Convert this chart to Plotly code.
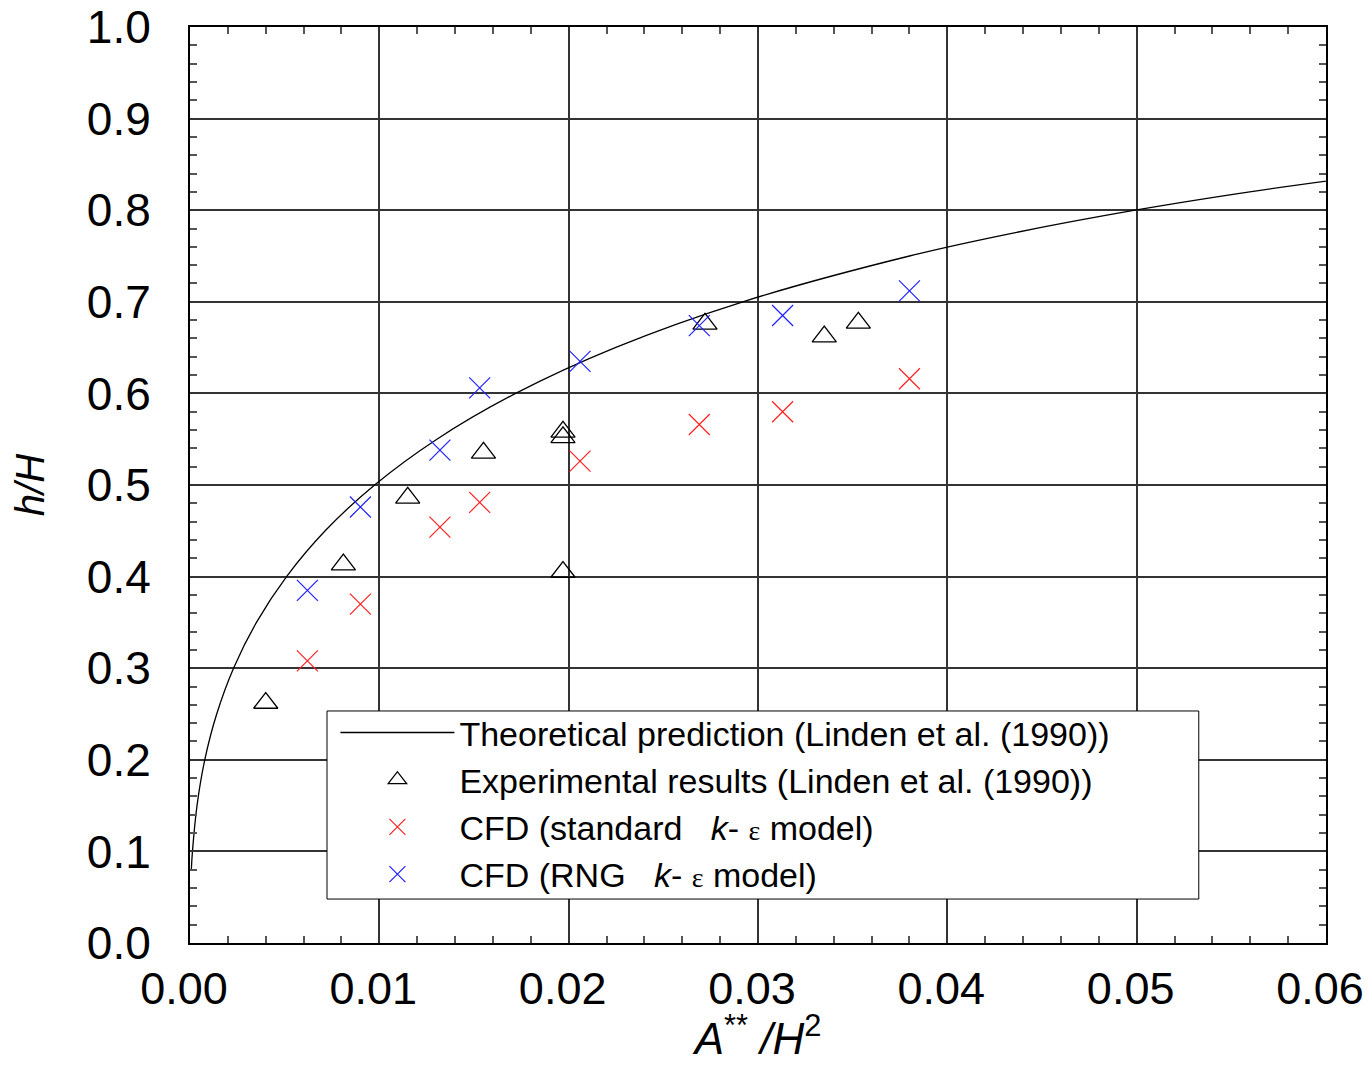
"""
h/H against A**/H^2: theory, Linden et al. experiments and two CFD runs.
"""

import plotly.graph_objects as go

# theoretical curve
THEORY_X = [0.00007, 0.00013, 0.00037, 0.00078, 0.00141, 0.00230, 0.00351, 0.00510,
            0.00714, 0.00975, 0.01304, 0.01720, 0.02246, 0.02920, 0.03800, 0.04347,
            0.04992, 0.05597, 0.06117]
THEORY_Y = [0.08, 0.10, 0.15, 0.20, 0.25, 0.30, 0.35, 0.40,
            0.45, 0.50, 0.55, 0.60, 0.65, 0.70, 0.75, 0.775,
            0.80, 0.82, 0.835]

# experimental results (Linden et al. 1990)
EXP_X = [0.0040, 0.0081, 0.0115, 0.0155, 0.0197, 0.0197, 0.0197, 0.0272, 0.0335, 0.0353]
EXP_Y = [0.262, 0.413, 0.486, 0.535, 0.558, 0.552, 0.405, 0.676, 0.662, 0.677]

# CFD runs share the same openings
CFD_X = [0.0062, 0.0090, 0.0132, 0.0153, 0.0206, 0.0269, 0.0313, 0.0380]
STD_Y = [0.308, 0.370, 0.454, 0.481, 0.526, 0.566, 0.580, 0.616]
RNG_Y = [0.385, 0.476, 0.538, 0.606, 0.635, 0.674, 0.685, 0.712]

X_TICKS = [0.00, 0.01, 0.02, 0.03, 0.04, 0.05, 0.06]
Y_TICKS = [0.0, 0.1, 0.2, 0.3, 0.4, 0.5, 0.6, 0.7, 0.8, 0.9, 1.0]

FONT = "Liberation Sans, Arial, sans-serif"
EPS = "<span style='font-family:Liberation Serif, serif;font-size:28px'>ε</span>"

fig = go.Figure()
fig.add_trace(go.Scatter(
    x=THEORY_X, y=THEORY_Y, mode="lines", line_shape="spline",
    line=dict(color="black", width=1.3),
    name="Theoretical prediction (Linden et al. (1990))",
))
fig.add_trace(go.Scatter(
    x=EXP_X, y=EXP_Y, mode="markers",
    marker=dict(symbol="triangle-up-open", size=21, color="black", line=dict(width=1.3)),
    name="Experimental results (Linden et al. (1990))",
))
fig.add_trace(go.Scatter(
    x=CFD_X, y=STD_Y, mode="markers",
    marker=dict(symbol="x-thin-open", size=21, color="#ff2020", line=dict(width=1.2, color="#ff2020")),
    name=f"CFD (standard   <i>k</i>- {EPS} model)",
))
fig.add_trace(go.Scatter(
    x=CFD_X, y=RNG_Y, mode="markers",
    marker=dict(symbol="x-thin-open", size=21, color="#2020ff", line=dict(width=1.2, color="#2020ff")),
    name=f"CFD (RNG   <i>k</i>- {EPS} model)",
))

# white legend box covering the grid
fig.add_shape(type="rect", xref="paper", yref="paper",
              x0=0.1206, x1=0.888, y0=0.048, y1=0.2533,
              fillcolor="white", line=dict(color="black", width=1), layer="above")

axis_common = dict(
    showline=True, linecolor="black", linewidth=2, mirror="ticks",
    showgrid=True, gridcolor="#333", gridwidth=1.5,
    ticks="inside", ticklen=8, tickcolor="#333", tickwidth=1.5,
    zeroline=False, ticklabeloverflow="allow",
)
fig.update_xaxes(
    range=[0, 0.06], tickvals=X_TICKS, tickformat=".2f",
    ticklabelstandoff=5, ticklabelshift=-6,
    tickfont=dict(size=45, color="black", family=FONT),
    minor=dict(ticks="inside", ticklen=7, dtick=0.002, tickcolor="#555", showgrid=False),
    title=dict(text="<i>A</i><sup>**</sup> <i>/H</i><sup>2</sup>", standoff=26,
               font=dict(size=44, color="black", family=FONT)),
    automargin=False, **axis_common,
)
fig.update_yaxes(
    range=[0, 1.0], tickvals=Y_TICKS, tickformat=".1f", ticklabelstandoff=28,
    tickfont=dict(size=46, color="black", family=FONT),
    minor=dict(ticks="inside", ticklen=7, dtick=0.02, tickcolor="#555", showgrid=False),
    title=dict(text="<i>h/H</i>", standoff=30,
               font=dict(size=40, color="black", family=FONT)),
    automargin=False, **axis_common,
)
fig.update_layout(
    width=1355, height=1055,
    margin=dict(l=182, r=37, t=19, b=120),
    plot_bgcolor="white", paper_bgcolor="white",
    font=dict(family=FONT, color="black"),
    legend=dict(
        x=0.128, y=0.261, xanchor="left", yanchor="top",
        bgcolor="rgba(0,0,0,0)", borderwidth=0,
        font=dict(size=34, color="black", family=FONT),
        itemwidth=114, tracegroupgap=0,
    ),
)

fig.write_html("out.html")
